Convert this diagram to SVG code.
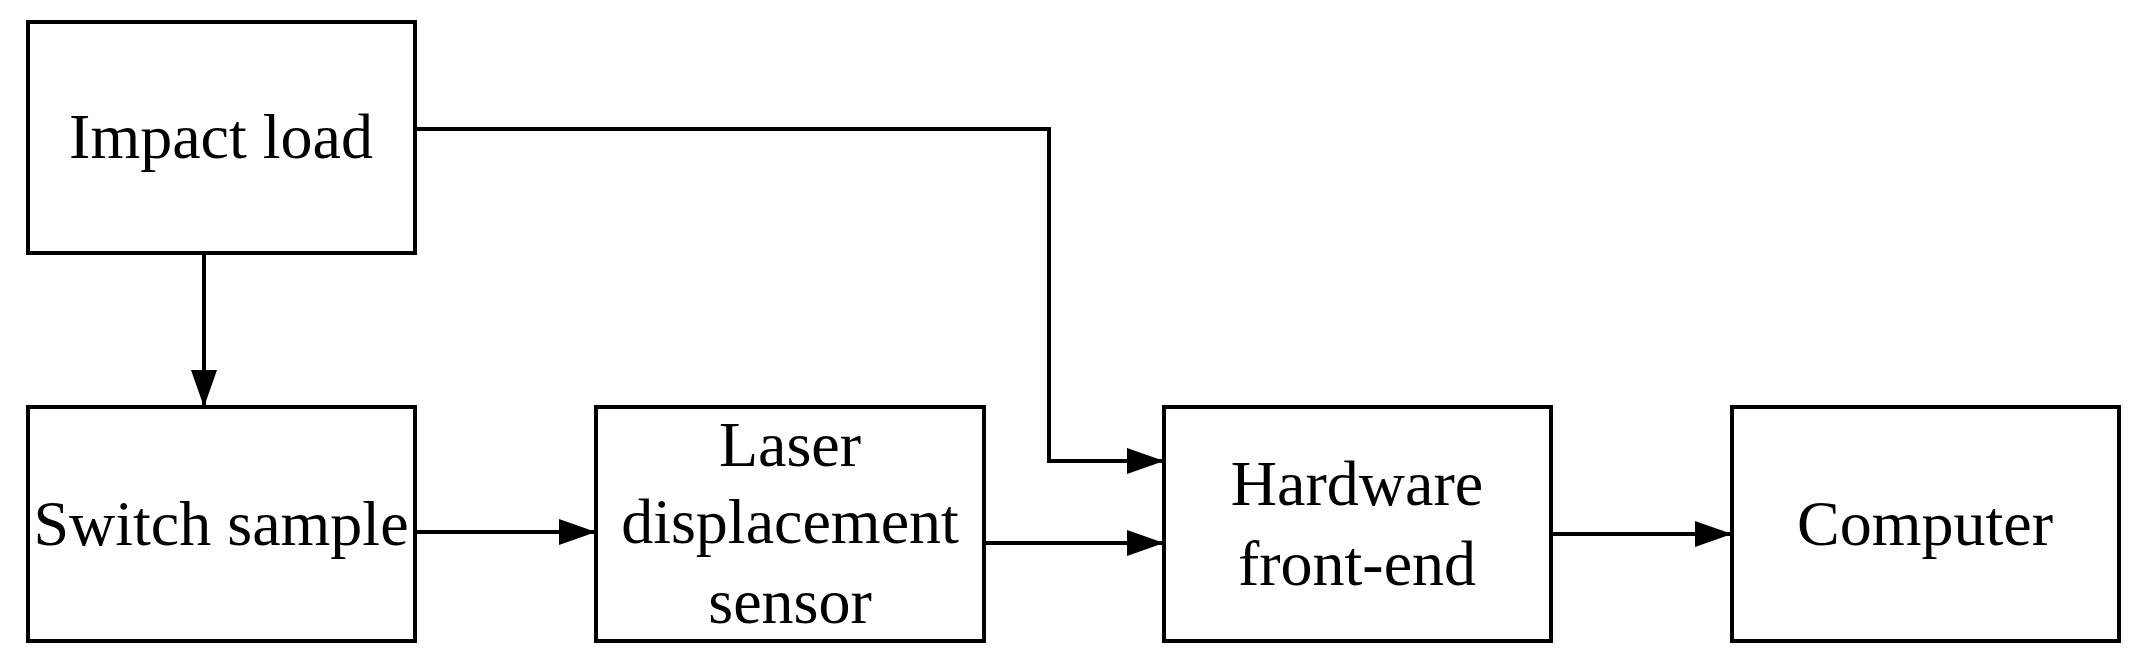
<svg xmlns="http://www.w3.org/2000/svg" width="2142" height="660" viewBox="0 0 2142 660">
<style>
rect{fill:#fff;stroke:#000;stroke-width:4}
text{font-family:"Liberation Serif","Times New Roman",serif;font-size:64px;text-anchor:middle;fill:#000}
.c{fill:none;stroke:#000;stroke-width:4}
</style>
<defs><marker id="a" markerUnits="userSpaceOnUse" markerWidth="37" markerHeight="26" refX="37" refY="13" orient="auto"><path d="M0,0L37,13L0,26Z" fill="#000"/></marker></defs>
<rect width="2142" height="660" style="stroke:none"/>
<g id="impact"><rect x="28" y="22" width="387" height="231"/><text x="221" y="158">Impact load</text></g>
<g id="switch"><rect x="28" y="407" width="387" height="234"/><text x="221" y="545">Switch sample</text></g>
<g id="laser"><rect x="596" y="407" width="388" height="234"/><text x="790" y="466">Laser</text><text x="790" y="543">displacement</text><text x="790" y="623">sensor</text></g>
<g id="hardware"><rect x="1164" y="407" width="387" height="234"/><text x="1357" y="505">Hardware</text><text x="1357" y="585">front-end</text></g>
<g id="computer"><rect x="1732" y="407" width="387" height="234"/><text x="1925" y="545">Computer</text></g>
<g id="connectors">
<path class="c" d="M204,253V407" marker-end="url(#a)"/>
<path class="c" d="M415,129H1049V461H1164" marker-end="url(#a)"/>
<path class="c" d="M415,532H596" marker-end="url(#a)"/>
<path class="c" d="M984,543H1164" marker-end="url(#a)"/>
<path class="c" d="M1551,534H1732" marker-end="url(#a)"/>
</g>
</svg>
